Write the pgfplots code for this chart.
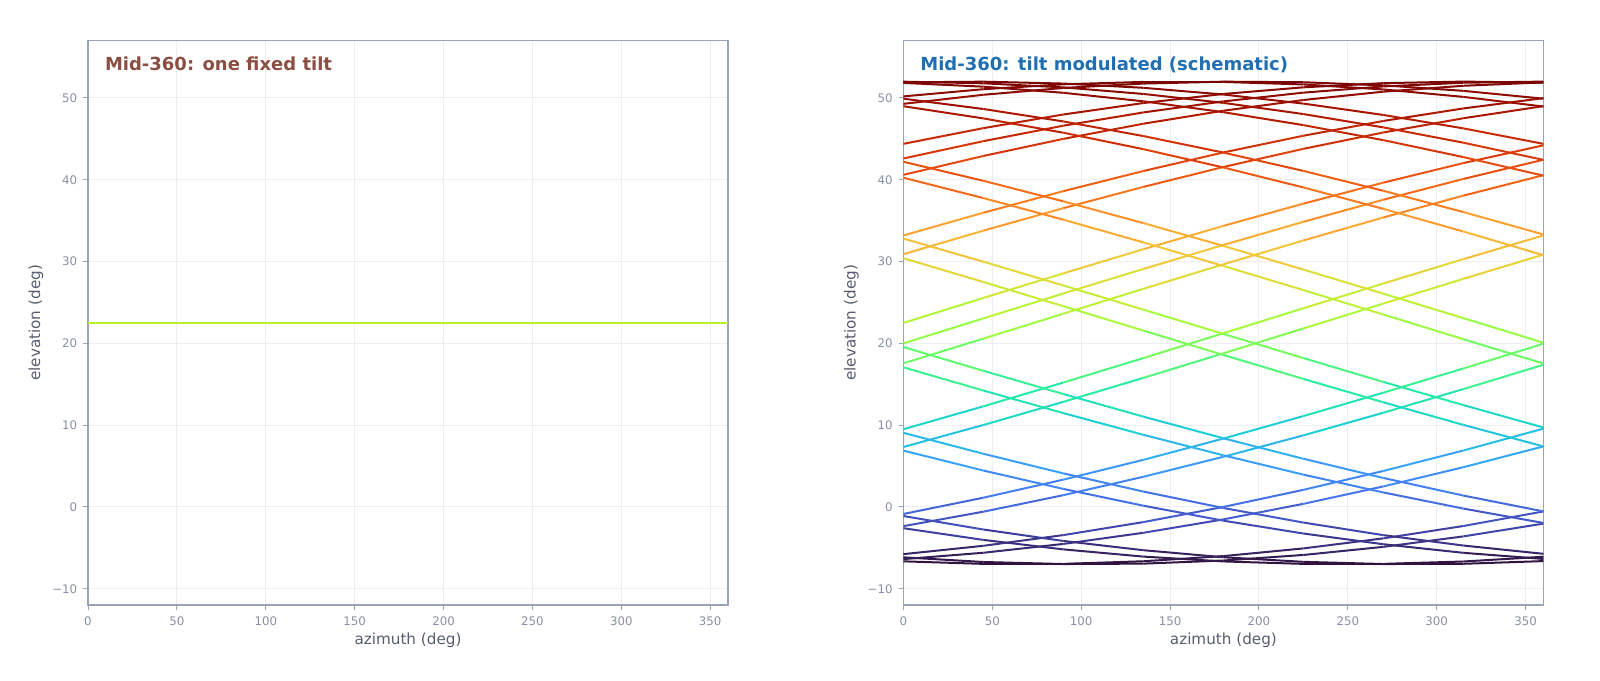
\documentclass[border=0pt]{standalone}
\usepackage{fontspec}
\setmainfont{DejaVu Sans}
\usepackage{pgfplots}
\pgfplotsset{compat=1.18}
\definecolor{spine}{RGB}{154,163,180}
\definecolor{tickc}{RGB}{135,144,162}
\definecolor{labc}{RGB}{85,93,110}
\definecolor{gridc}{RGB}{236,238,243}
\definecolor{ttlL}{RGB}{139,78,66}
\definecolor{ttlR}{RGB}{31,111,178}
\definecolor{fixedc}{RGB}{185,240,45}
\pgfplotsset{
  colormap={turbo}{rgb255=(48,18,59) rgb255=(65,69,171) rgb255=(70,117,237) rgb255=(57,162,252) rgb255=(27,207,212) rgb255=(36,236,166) rgb255=(97,252,108) rgb255=(164,252,59) rgb255=(209,232,52) rgb255=(243,198,58) rgb255=(254,155,45) rgb255=(243,99,21) rgb255=(217,56,6) rgb255=(177,25,1) rgb255=(122,4,2)},
  myax/.style={
    scale only axis, width=320pt, height=282.2pt,
    xmin=0, xmax=360, ymin=-12, ymax=57,
    xtick={0,50,...,350}, ytick={-10,0,10,20,30,40,50},
    yticklabels={−10,0,10,20,30,40,50},
    tick pos=left,
    tick align=outside, major tick length=2.35pt,
    tick style={spine, line width=0.5pt},
    axis line style={spine, line width=0.6pt},
    grid=major, major grid style={gridc, line width=0.5pt},
    /pgf/number format/assume math mode=true,
    ticklabel style={font=\fontsize{5.9}{6.8}\selectfont, text=tickc},
    xticklabel style={anchor=north, yshift=0.3pt},
    yticklabel style={anchor=east, xshift=0.5pt},
    xlabel={azimuth (deg)}, ylabel={elevation (deg)},
    label style={font=\fontsize{7.6}{9}\selectfont, text=labc},
    xlabel style={at={(axis description cs:0.5,-0.063)}, anchor=center},
    ylabel style={at={(axis description cs:-0.0813,0.5)}, anchor=center},
    colormap name=turbo, point meta min=-7, point meta max=52,
  },
  ln/.style={mesh, point meta=y, line width=1pt},
}
\newcommand{\ttl}[2]{\node[anchor=base west, inner sep=0pt, xshift=8.3pt, yshift=-15pt, font=\bfseries\fontsize{9}{10}\selectfont, text=#1] at (rel axis cs:0,1) {#2};}
\begin{document}
\begin{tikzpicture}
\path[use as bounding box] (0,0) rectangle (800pt,340pt);
\begin{axis}[myax, at={(44pt,37.45pt)}, anchor=south west]
\addplot[fixedc, line width=1.25pt] coordinates {(0,22.5) (360,22.5)};
\ttl{ttlL}{Mid-360: one fixed tilt}
\end{axis}
\begin{axis}[myax, at={(451.7pt,37.45pt)}, anchor=south west]
% rising lines
\addplot[ln] coordinates {(0,-2.35) (45,-0.58) (90,1.44) (135,3.69) (180,6.13) (225,8.75) (270,11.52) (315,14.41) (360,17.38)};
\addplot[ln] coordinates {(0,-0.86) (45,1.13) (90,3.34) (135,5.76) (180,8.36) (225,11.11) (270,13.97) (315,16.93) (360,19.95)};
\addplot[ln] coordinates {(0,7.33) (45,10.02) (90,12.85) (135,15.78) (180,18.78) (225,21.82) (270,24.87) (315,27.89) (360,30.85)};
\addplot[ln] coordinates {(0,9.50) (45,12.30) (90,15.21) (135,18.20) (180,21.24) (225,24.29) (270,27.32) (315,30.30) (360,33.19)};
\addplot[ln] coordinates {(0,17.56) (45,20.58) (90,23.63) (135,26.67) (180,29.66) (225,32.58) (270,35.39) (315,38.06) (360,40.56)};
\addplot[ln] coordinates {(0,20.00) (45,23.05) (90,26.10) (135,29.10) (180,32.03) (225,34.86) (270,37.56) (315,40.10) (360,42.45)};
\addplot[ln] coordinates {(0,22.50) (45,25.55) (90,28.56) (135,31.51) (180,34.36) (225,37.08) (270,39.65) (315,42.04) (360,44.21)};
\addplot[ln] coordinates {(0,30.90) (45,33.78) (90,36.53) (135,39.13) (180,41.56) (225,43.78) (270,45.78) (315,47.52) (360,49.00)};
\addplot[ln] coordinates {(0,33.19) (45,35.97) (90,38.61) (135,41.07) (180,43.34) (225,45.38) (270,47.19) (315,48.72) (360,49.98)};
\addplot[ln] coordinates {(0,40.60) (45,42.91) (90,45.00) (135,46.85) (180,48.44) (225,49.75) (270,50.77) (315,51.49) (360,51.90)};
\addplot[ln] coordinates {(0,42.60) (45,44.72) (90,46.61) (135,48.23) (180,49.58) (225,50.65) (270,51.41) (315,51.86) (360,52.00)};
\addplot[ln] coordinates {(0,44.39) (45,46.31) (90,47.98) (135,49.38) (180,50.49) (225,51.30) (270,51.81) (315,52.00) (360,51.87)};
% bottom lines
\addplot[ln] coordinates {(0,-6.16) (45,-6.73) (90,-6.98) (135,-6.93) (180,-6.55) (225,-5.87) (270,-4.88) (315,-3.60) (360,-2.04)};
\addplot[ln] coordinates {(0,-6.65) (45,-6.96) (90,-6.96) (135,-6.64) (180,-6.01) (225,-5.07) (270,-3.84) (315,-2.33) (360,-0.55)};
\addplot[ln] coordinates {(0,-6.38) (45,-5.60) (90,-4.52) (135,-3.16) (180,-1.52) (225,0.38) (270,2.51) (315,4.86) (360,7.40)};
\addplot[ln] coordinates {(0,-5.77) (45,-4.75) (90,-3.44) (135,-1.85) (180,0.00) (225,2.09) (270,4.40) (315,6.90) (360,9.57)};
% top caps
\addplot[ln] coordinates {(0,49.28) (45,50.39) (90,51.22) (135,51.76) (180,51.99) (225,51.92) (270,51.54) (315,50.87) (360,49.91)};
\addplot[ln] coordinates {(0,50.19) (45,51.07) (90,51.67) (135,51.96) (180,51.96) (225,51.65) (270,51.04) (315,50.13) (360,48.95)};
\addplot[ln] coordinates {(0,51.91) (45,51.99) (90,51.76) (135,51.24) (180,50.42) (225,49.31) (270,47.92) (315,46.28) (360,44.39)};
\addplot[ln] coordinates {(0,51.99) (45,51.79) (90,51.29) (135,50.49) (180,49.40) (225,48.03) (270,46.40) (315,44.53) (360,42.43)};
\addplot[ln] coordinates {(0,51.84) (45,51.38) (90,50.63) (135,49.59) (180,48.26) (225,46.68) (270,44.84) (315,42.77) (360,40.50)};
% falling lines
\addplot[ln] coordinates {(0,49.91) (45,48.65) (90,47.13) (135,45.34) (180,43.32) (225,41.08) (270,38.65) (315,36.05) (360,33.31)};
\addplot[ln] coordinates {(0,48.99) (45,47.50) (90,45.75) (135,43.74) (180,41.50) (225,39.06) (270,36.44) (315,33.67) (360,30.78)};
\addplot[ln] coordinates {(0,42.20) (45,39.87) (90,37.36) (135,34.70) (180,31.91) (225,29.02) (270,26.07) (315,23.08) (360,20.08)};
\addplot[ln] coordinates {(0,40.25) (45,37.76) (90,35.12) (135,32.34) (180,29.46) (225,26.51) (270,23.52) (315,20.51) (360,17.53)};
\addplot[ln] coordinates {(0,32.81) (45,29.98) (90,27.07) (135,24.12) (180,21.15) (225,18.20) (270,15.28) (315,12.45) (360,9.71)};
\addplot[ln] coordinates {(0,30.41) (45,27.50) (90,24.54) (135,21.56) (180,18.58) (225,15.65) (270,12.79) (315,10.03) (360,7.40)};
\addplot[ln] coordinates {(0,19.55) (45,16.64) (90,13.80) (135,11.04) (180,8.39) (225,5.89) (270,3.54) (315,1.39) (360,-0.55)};
\addplot[ln] coordinates {(0,17.07) (45,14.23) (90,11.47) (135,8.82) (180,6.31) (225,3.95) (270,1.77) (315,-0.20) (360,-1.96)};
\addplot[ln] coordinates {(0,9.06) (45,6.50) (90,4.10) (135,1.88) (180,-0.13) (225,-1.91) (270,-3.45) (315,-4.72) (360,-5.73)};
\addplot[ln] coordinates {(0,6.89) (45,4.45) (90,2.20) (135,0.15) (180,-1.68) (225,-3.25) (270,-4.56) (315,-5.61) (360,-6.36)};
\addplot[ln] coordinates {(0,-1.11) (45,-2.76) (90,-4.16) (135,-5.29) (180,-6.15) (225,-6.71) (270,-6.98) (315,-6.95) (360,-6.62)};
\addplot[ln] coordinates {(0,-2.60) (45,-4.03) (90,-5.19) (135,-6.07) (180,-6.66) (225,-6.96) (270,-6.96) (315,-6.67) (360,-6.09)};
\ttl{ttlR}{Mid-360: tilt modulated (schematic)}
\end{axis}
\end{tikzpicture}
\end{document}
